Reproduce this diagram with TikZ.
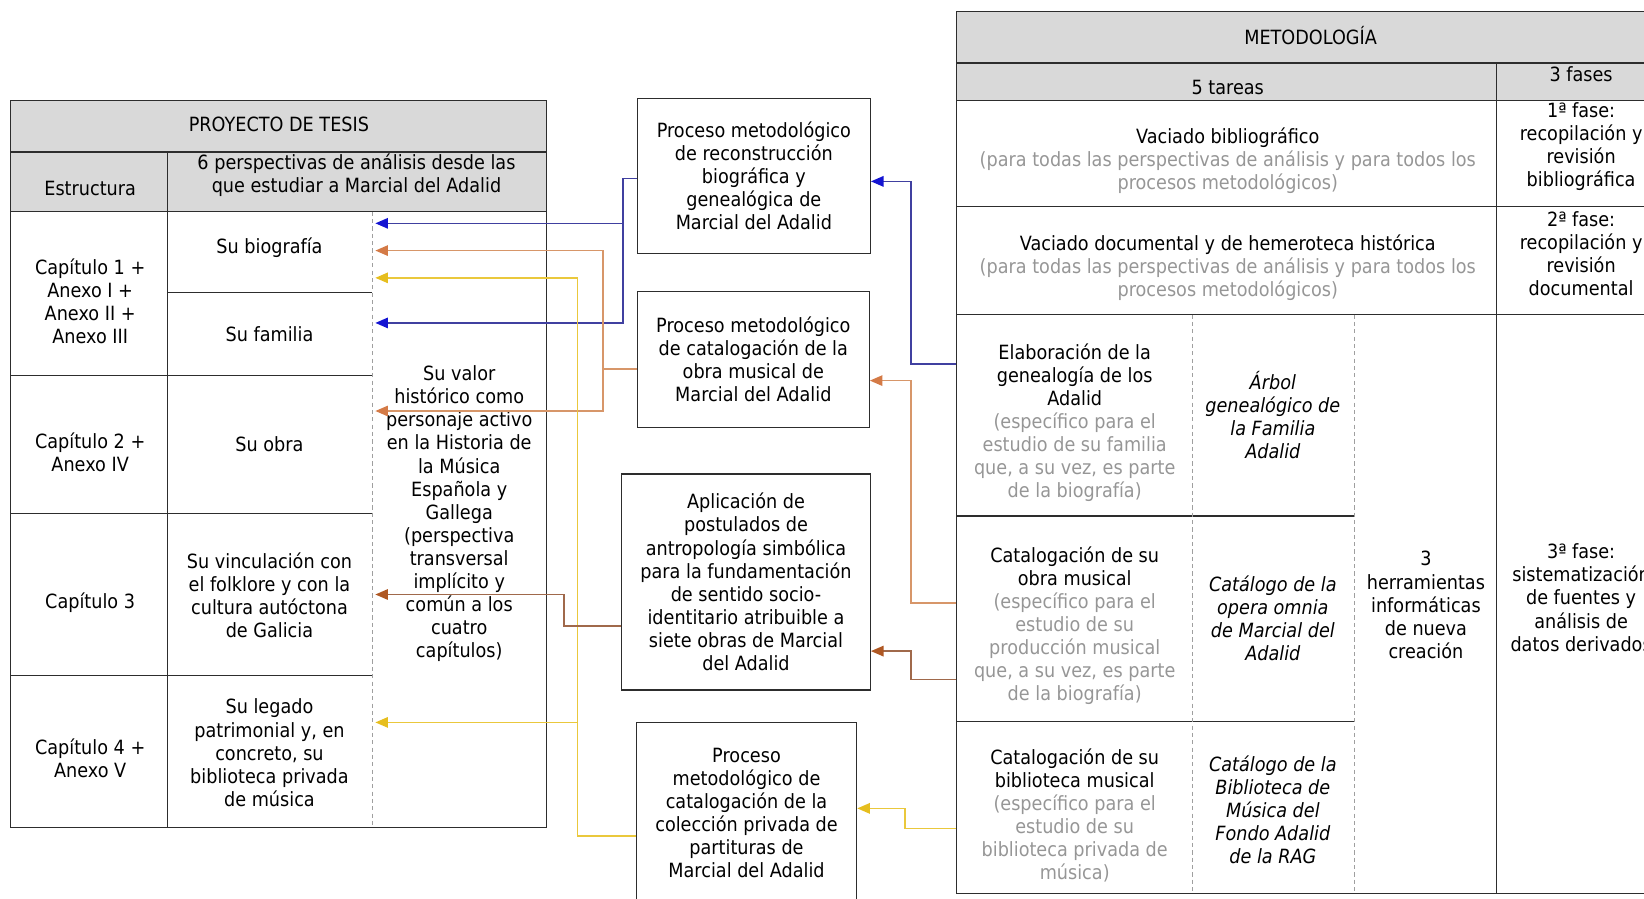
\documentclass[tikz,border=0pt]{standalone}
\usepackage{fontspec}
\setmainfont[FakeStretch=0.9]{DejaVu Sans}
\usetikzlibrary{arrows.meta}
\definecolor{hdGray}{RGB}{217,217,217}
\definecolor{txtGray}{RGB}{150,150,150}
\definecolor{ruleGray}{RGB}{45,45,45}
\definecolor{lnBlue}{RGB}{64,64,160}
\definecolor{tipBlue}{RGB}{20,20,210}
\definecolor{lnOrange}{RGB}{215,150,105}
\definecolor{tipOrange}{RGB}{212,122,70}
\definecolor{lnBrown}{RGB}{160,105,75}
\definecolor{tipBrown}{RGB}{175,88,35}
\definecolor{lnYellow}{RGB}{234,200,60}
\definecolor{tipYellow}{RGB}{230,190,30}
\newcommand{\dgfont}{\fontsize{18.7}{22}\selectfont}
\newcommand{\gr}{\color{txtGray}}
\begin{document}
\begin{tikzpicture}[x=1pt, y=-1pt,
	txt/.style={align=center, inner sep=0pt, font=\dgfont},
	txtit/.style={txt, font=\dgfont\itshape},
	procbox/.style={draw=ruleGray, line width=1.3pt, align=center, inner sep=0pt, font=\dgfont},
	tabline/.style={draw=ruleGray, line width=1.3pt},
	tabdash/.style={draw=gray!75, line width=0.8pt, dash pattern=on 4pt off 3pt},
	toblue/.style={draw=lnBlue, line width=1.4pt, -{Triangle[length=12pt, width=10pt, color=tipBlue]}},
	toorange/.style={draw=lnOrange, line width=1.4pt, -{Triangle[length=12pt, width=10pt, color=tipOrange]}},
	tobrown/.style={draw=lnBrown, line width=1.4pt, -{Triangle[length=12pt, width=10pt, color=tipBrown]}},
	toyellow/.style={draw=lnYellow, line width=1.4pt, -{Triangle[length=12pt, width=10pt, color=tipYellow]}}]
	\useasboundingbox (0,0) rectangle (1568,857);
	
	\fill [hdGray] (10,96) rectangle (521,202);
	\draw [tabline] (10,96) rectangle (521,789);
	\draw [tabline] (10,145) -- (521,145);
	\draw [tabline] (10,202) -- (521,202);
	\draw [tabline] (160,145) -- (160,789);
	\draw [tabline] (160,279) -- (355,279);
	\foreach \y in {358,490,644} \draw [tabline] (10,\y) -- (355,\y);
	\draw [tabdash] (355,202) -- (355,789);
	
	\node [txt] at (266, 119) (ttlTesis) {PROYECTO DE TESIS};
	\node [txt] at (86, 180) (hdEstr) {Estructura};
	\node [txt] at (340, 167) (hdPersp) {6 perspectivas de análisis desde las\\que estudiar a Marcial del Adalid};
	\node [txt] at (86, 287) (cap1) {Capítulo 1 +\\Anexo I +\\Anexo II +\\Anexo III};
	\node [txt] at (86, 431) (cap2) {Capítulo 2 +\\Anexo IV};
	\node [txt] at (86, 575) (cap3) {Capítulo 3};
	\node [txt] at (86, 723) (cap4) {Capítulo 4 +\\Anexo V};
	\node [txt] at (257, 236) (pBio) {Su biografía};
	\node [txt] at (257, 319) (pFam) {Su familia};
	\node [txt] at (257, 424) (pObra) {Su obra};
	\node [txt] at (257, 568) (pFolk) {Su vinculación con\\el folklore y con la\\cultura autóctona\\de Galicia};
	\node [txt] at (257, 718) (pLeg) {Su legado\\patrimonial y, en\\concreto, su\\biblioteca privada\\de música};
	\node [txt] at (438, 490) (pValor) {Su valor\\histórico como\\personaje activo\\en la Historia de\\la Música\\Española y\\Gallega\\(perspectiva\\transversal\\implícito y\\común a los\\cuatro\\capítulos)};
	
	\node [procbox, minimum width=222pt, minimum height=148pt] at (719, 168) (box1) {Proceso metodológico\\de reconstrucción\\biográfica y\\genealógica de\\Marcial del Adalid};
	\node [procbox, minimum width=221pt, minimum height=130pt] at (718.5, 343) (box2) {Proceso metodológico\\de catalogación de la\\obra musical de\\Marcial del Adalid};
	\node [procbox, minimum width=237pt, minimum height=206pt] at (711.5, 555) (box3) {Aplicación de\\postulados de\\antropología simbólica\\para la fundamentación\\de sentido socio-\\identitario atribuible a\\siete obras de Marcial\\del Adalid};
	\node [procbox, minimum width=210pt, minimum height=173pt] at (712, 775.5) (box4) {Proceso\\metodológico de\\catalogación de la\\colección privada de\\partituras de\\Marcial del Adalid};
	
	\fill [hdGray] (912,11) rectangle (1590,96);
	\draw [tabline] (912,11) rectangle (1590,852);
	\foreach \y in {60,96,197,300} \draw [tabline] (912,\y) -- (1590,\y);
	\draw [tabline] (1427,60) -- (1427,852);
	\foreach \y in {492,688} \draw [tabline] (912,\y) -- (1292,\y);
	\foreach \x in {1137,1292} \draw [tabdash] (\x,300) -- (\x,852);
	
	\node [txt] at (1250, 34) (ttlMet) {METODOLOGÍA};
	\node [txt] at (1171, 83) (hdTareas) {5 tareas};
	\node [txt] at (1508, 71) (hdFases) {3 fases};
	\node [txt] at (1171, 153) (tBib) {Vaciado bibliográfico\\\gr(para todas las perspectivas de análisis y para todos los\\\gr procesos metodológicos)};
	\node [txt] at (1171, 255) (tDoc) {Vaciado documental y de hemeroteca histórica\\\gr(para todas las perspectivas de análisis y para todos los\\\gr procesos metodológicos)};
	\node [txt] at (1508, 140) (fase1) {1ª fase:\\recopilación y\\revisión\\bibliográfica};
	\node [txt] at (1508, 242) (fase2) {2ª fase:\\recopilación y\\revisión\\documental};
	\node [txt] at (1025, 403) (tGen) {Elaboración de la\\genealogía de los\\Adalid\\\gr(específico para el\\\gr estudio de su familia\\\gr que, a su vez, es parte\\\gr de la biografía)};
	\node [txt] at (1025, 596.5) (tObra) {Catalogación de su\\obra musical\\\gr(específico para el\\\gr estudio de su\\\gr producción musical\\\gr que, a su vez, es parte\\\gr de la biografía)};
	\node [txt] at (1025, 778) (tBibl) {Catalogación de su\\biblioteca musical\\\gr(específico para el\\\gr estudio de su\\\gr biblioteca privada de\\\gr música)};
	\node [txtit] at (1214, 396) (hGen) {Árbol\\genealógico de\\la Familia\\Adalid};
	\node [txtit] at (1214, 590) (hObra) {Catálogo de la\\opera omnia\\de Marcial del\\Adalid};
	\node [txtit] at (1214, 772) (hBibl) {Catálogo de la\\Biblioteca de\\Música del\\Fondo Adalid\\de la RAG};
	\node [txt] at (1360, 577) (herr) {3\\herramientas\\informáticas\\de nueva\\creación};
	\node [txt] at (1508, 570) (fase3) {3ª fase:\\sistematización\\de fuentes y\\análisis de\\datos derivados};
	
	\coordinate (aBlueBio) at (358, 213);
	\coordinate (aOrBio) at (358, 239);
	\coordinate (aYeBio) at (358, 265);
	\coordinate (aBlueFam) at (358, 308);
	\coordinate (aOrObra) at (358, 392);
	\coordinate (aBrFolk) at (358, 567);
	\coordinate (aYeLeg) at (358, 689);
	\coordinate (jBlue) at (594, 0);
	\coordinate (jOr) at (575, 0);
	\coordinate (jYe) at (551, 0);
	\coordinate (jBr) at (538, 0);
	\coordinate (wBox1) at ([yshift=-2pt]box1.west);
	\coordinate (wBox2) at ([yshift=-9pt]box2.west);
	\coordinate (wBox3) at ([yshift=-42pt]box3.west);
	\coordinate (wBox4) at ([yshift=-22pt]box4.west);
	\draw [toblue] (wBox1) -| (jBlue |- aBlueBio) -- (aBlueBio);
	\draw [toblue] (wBox1) -| (jBlue |- aBlueFam) -- (aBlueFam);
	\draw [toorange] (wBox2) -| (jOr |- aOrBio) -- (aOrBio);
	\draw [toorange] (wBox2) -| (jOr |- aOrObra) -- (aOrObra);
	\draw [toyellow] (wBox4) -| (jYe |- aYeBio) -- (aYeBio);
	\draw [toyellow] (wBox4) -| (jYe |- aYeLeg) -- (aYeLeg);
	\draw [tobrown] (wBox3) -| (jBr |- aBrFolk) -- (aBrFolk);
	
	\coordinate (sGen) at (912, 347);
	\coordinate (sObra) at (912, 575);
	\coordinate (sSimb) at (912, 648);
	\coordinate (sBibl) at (912, 790);
	\coordinate (jR) at (869, 0);
	\coordinate (jRy) at (863, 0);
	\coordinate (eBox1) at ([yshift=-5pt]box1.east);
	\coordinate (eBox2) at ([yshift=-20pt]box2.east);
	\coordinate (eBox3) at ([yshift=-66pt]box3.east);
	\coordinate (eBox4) at ([yshift=4.5pt]box4.east);
	\draw [toblue] (sGen) -| (jR |- eBox1) -- (eBox1);
	\draw [toorange] (sObra) -| (jR |- eBox2) -- (eBox2);
	\draw [tobrown] (sSimb) -| (jR |- eBox3) -- (eBox3);
	\draw [toyellow] (sBibl) -| (jRy |- eBox4) -- (eBox4);
\end{tikzpicture}
\end{document}
